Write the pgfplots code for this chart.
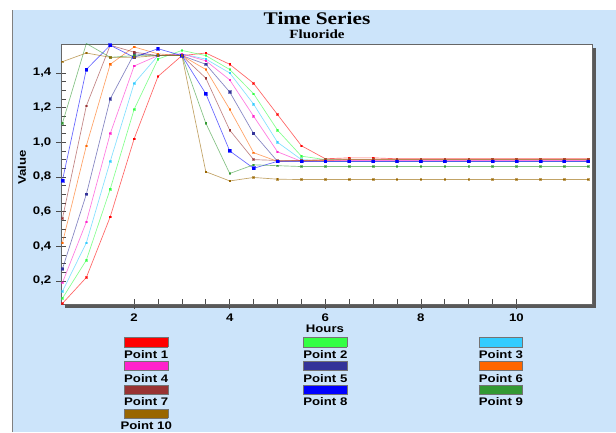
\documentclass[border=0pt]{standalone}
\usepackage{fontspec}
\setmainfont{Liberation Sans}[FakeStretch=1.2]
\newfontfamily\titlefont{Liberation Serif}[FakeStretch=1.2]
\usepackage{pgfplots}
\usepackage{pgfplotstable}
\pgfplotsset{compat=1.18}

\definecolor{bgblue}{RGB}{204,228,250}
\definecolor{c1}{HTML}{FF0000}
\definecolor{c2}{HTML}{33FF44}
\definecolor{c3}{HTML}{33CCFF}
\definecolor{c4}{HTML}{FF22CC}
\definecolor{c5}{HTML}{333399}
\definecolor{c6}{HTML}{FF6600}
\definecolor{c7}{HTML}{993333}
\definecolor{c8}{HTML}{0000FF}
\definecolor{c9}{HTML}{339933}
\definecolor{c10}{HTML}{996600}

\pgfplotstableread{
t    p1     p2    p3    p4    p5    p6    p7    p8    p9    p10
0.5  0.07   0.10  0.14  0.19  0.27  0.42  0.56  0.78  1.11  1.465
1.0  0.22   0.32  0.42  0.54  0.70  0.98  1.21  1.42  1.57  1.515
1.5  0.57   0.73  0.89  1.05  1.25  1.45  1.56  1.56  1.49  1.49
2.0  1.02   1.19  1.34  1.44  1.51  1.55  1.52  1.49  1.50  1.49
2.5  1.38   1.48  1.50  1.50  1.50  1.51  1.50  1.54  1.50  1.50
3.0  1.50   1.53  1.51  1.51  1.50  1.50  1.50  1.50  1.50  1.50
3.5  1.515  1.50  1.48  1.47  1.45  1.42  1.37  1.28  1.11  0.83
4.0  1.45   1.42  1.40  1.36  1.29  1.19  1.07  0.95  0.82  0.777
4.5  1.34   1.28  1.22  1.15  1.05  0.94  0.90  0.85  0.87  0.797
5.0  1.16   1.07  1.00  0.945 0.89  0.89  0.895 0.89  0.865 0.787
5.5  0.98   0.92  0.90  0.89  0.89  0.895 0.895 0.89  0.86  0.785
6.0  0.905  0.90  0.89  0.895 0.89  0.895 0.90  0.89  0.86  0.785
6.5  0.91   0.90  0.89  0.895 0.89  0.90  0.90  0.89  0.86  0.785
7.0  0.91   0.90  0.89  0.895 0.89  0.90  0.90  0.89  0.86  0.785
7.5  0.905  0.90  0.89  0.895 0.89  0.90  0.90  0.89  0.86  0.785
8.0  0.905  0.90  0.89  0.895 0.89  0.90  0.90  0.89  0.86  0.785
8.5  0.905  0.90  0.89  0.895 0.89  0.90  0.90  0.89  0.86  0.785
9.0  0.905  0.90  0.89  0.895 0.89  0.90  0.90  0.89  0.86  0.785
9.5  0.905  0.90  0.89  0.895 0.89  0.90  0.90  0.89  0.86  0.785
10.0 0.905  0.90  0.89  0.895 0.89  0.90  0.90  0.89  0.86  0.785
10.5 0.905  0.90  0.89  0.895 0.89  0.90  0.90  0.89  0.86  0.785
11.0 0.905  0.90  0.89  0.895 0.89  0.90  0.90  0.89  0.86  0.785
11.5 0.905  0.90  0.89  0.895 0.89  0.90  0.90  0.89  0.86  0.785
}\data

\newcommand{\sw}[2]{\shortstack{{\fboxsep=0pt\fboxrule=0.4pt\fcolorbox{black!55}{#1}{\rule{0pt}{6.75pt}\rule{32.25pt}{0pt}}}\\[-0.6pt]#2}}

\begin{document}
\begin{tikzpicture}
\useasboundingbox (0pt,0pt) rectangle (462pt,324pt);
\clip (0pt,0pt) rectangle (462pt,324pt);
\fill[bgblue] (0pt,0pt) rectangle (462pt,324pt);
\fill[white] (0pt,316.5pt) rectangle (462pt,324pt);
\fill[white] (0pt,0pt) rectangle (9pt,324pt);
\draw[gray, line width=0.8pt] (9.4pt,0pt) -- (9.4pt,316.5pt);
\fill[black!65] (48.5pt,93.3pt) rectangle (446.7pt,288.3pt);
\node[font=\titlefont\bfseries\fontsize{13.3}{15}\selectfont, anchor=base] at (237.75pt,305.25pt) {Time Series};
\node[font=\titlefont\bfseries\fontsize{9.4}{11}\selectfont, anchor=base] at (237.75pt,295pt) {Fluoride};
\begin{axis}[
  at={(45.75pt,96pt)}, anchor=south west,
  scale only axis, width=398.25pt, height=195pt,
  xmin=0.47, xmax=11.58, ymin=0.067, ymax=1.567,
  axis background/.style={fill=white},
  axis line style={draw=black!60, line width=0.6pt},
  xtick={2,4,6,8,10}, minor x tick num=3,
  ytick={0.2,0.4,0.6,0.8,1.0,1.2,1.4}, minor y tick num=3,
  xtick pos=left, ytick pos=left,
  tick align=center, major tick length=7.5pt, minor tick length=4pt,
  every minor x tick/.append style={yshift=2pt},
  every minor y tick/.append style={xshift=2pt},
  tick style={black!70, line width=0.5pt},
  /pgf/number format/assume math mode=true,
  tick label style={font=\bfseries\fontsize{8.25}{9}\selectfont},
  yticklabel style={/pgf/number format/.cd, fixed, fixed zerofill, precision=1, use comma},
  xlabel={Hours}, ylabel={Value},
  every axis x label/.style={at={(axis description cs:0.497,-0.1115)}, anchor=base, font=\bfseries\fontsize{8.25}{9}\selectfont},
  every axis y label/.style={at={(axis description cs:-0.066,0.525)}, anchor=base, rotate=90, font=\bfseries\fontsize{8.25}{9}\selectfont},
  legend columns=3,
  legend cell align=center,
  legend image code/.code={},
  legend style={draw=none, fill=none, inner sep=0pt,
    at={(0.491,-0.122)}, anchor=north,
    font=\bfseries\fontsize{8.25}{9}\selectfont,
    nodes={inner sep=0.8pt},
    /tikz/column sep=0pt,
    /tikz/every even column/.append style={column sep=97pt},
    /tikz/row sep=-1.15pt},
  every axis plot/.append style={line width=0.5pt, draw opacity=0.6, mark=square*, mark size=0.6pt, mark options={solid, draw opacity=0.9, fill opacity=0.9}},
]
\addplot[c1, mark options={fill=c1}] table[x=t,y=p1]{\data};
\addlegendentry{\sw{c1}{Point 1}}
\addplot[c2, mark options={fill=c2}] table[x=t,y=p2]{\data};
\addlegendentry{\sw{c2}{Point 2}}
\addplot[c3, mark options={fill=c3}] table[x=t,y=p3]{\data};
\addlegendentry{\sw{c3}{Point 3}}
\addplot[c4, mark options={fill=c4}] table[x=t,y=p4]{\data};
\addlegendentry{\sw{c4}{Point 4}}
\addplot[c5, mark size=0.9pt, mark options={fill=c5}] table[x=t,y=p5]{\data};
\addlegendentry{\sw{c5}{Point 5}}
\addplot[c6, mark options={fill=c6}] table[x=t,y=p6]{\data};
\addlegendentry{\sw{c6}{Point 6}}
\addplot[c7, mark options={fill=c7}] table[x=t,y=p7]{\data};
\addlegendentry{\sw{c7}{Point 7}}
\addplot[c8, mark size=1.1pt, mark options={fill=c8}] table[x=t,y=p8]{\data};
\addlegendentry{\sw{c8}{Point 8}}
\addplot[c9, mark options={fill=c9}] table[x=t,y=p9]{\data};
\addlegendentry{\sw{c9}{Point 9}}
\addplot[c10, mark options={fill=c10}] table[x=t,y=p10]{\data};
\addlegendentry{\sw{c10}{Point 10}}
\end{axis}
\end{tikzpicture}
\end{document}
